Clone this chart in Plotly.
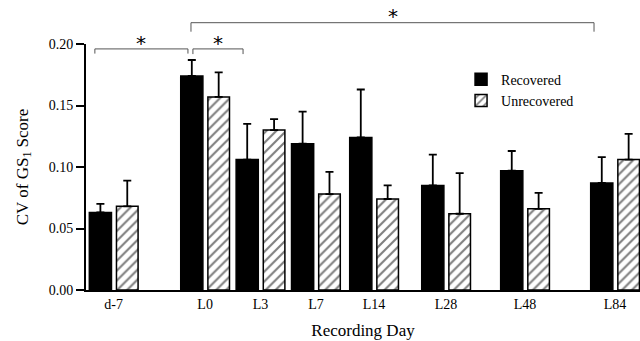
import plotly.graph_objects as go

categories = ["d-7", "L0", "L3", "L7", "L14", "L28", "L48", "L84"]
recovered = [0.063, 0.174, 0.106, 0.119, 0.124, 0.085, 0.097, 0.087]
recovered_err = [0.007, 0.013, 0.029, 0.026, 0.039, 0.025, 0.016, 0.021]
unrecovered = [0.068, 0.157, 0.130, 0.078, 0.074, 0.062, 0.066, 0.106]
unrecovered_err = [0.021, 0.020, 0.009, 0.018, 0.011, 0.033, 0.013, 0.021]

# layout helper: group centre positions along the x axis (non-uniform spacing)
group_x = [1, 4.3, 6.3, 8.3, 10.4, 13.0, 15.85, 19.1]

FONT = "Liberation Serif"

fig = go.Figure()
fig.add_trace(go.Bar(
    x=group_x, y=recovered, name="Recovered",
    offset=-0.88, width=0.8,
    marker=dict(color="black", line=dict(color="black", width=1.5)),
    error_y=dict(type="data", array=recovered_err, arrayminus=[0] * len(recovered),
                 symmetric=False, color="black", thickness=1.8, width=4),
))
fig.add_trace(go.Bar(
    x=group_x, y=unrecovered, name="Unrecovered",
    offset=0.1, width=0.78,
    marker=dict(color="white", line=dict(color="black", width=1.5),
                pattern=dict(shape="/", fgcolor="black", bgcolor="white",
                             size=7, solidity=0.3)),
    error_y=dict(type="data", array=unrecovered_err, arrayminus=[0] * len(unrecovered),
                 symmetric=False, color="black", thickness=1.8, width=4),
))

# significance brackets (x in data units, y in paper units)
def bracket(x0, x1, ytop, ybot, star_y):
    line = dict(color="#555", width=1)
    fig.add_shape(type="line", xref="x", yref="paper", x0=x0, x1=x1, y0=ytop, y1=ytop, line=line)
    fig.add_shape(type="line", xref="x", yref="paper", x0=x0, x1=x0, y0=ytop, y1=ybot, line=line)
    fig.add_shape(type="line", xref="x", yref="paper", x0=x1, x1=x1, y0=ytop, y1=ybot, line=line)
    fig.add_annotation(x=(x0 + x1) / 2, xref="x", y=star_y, yref="paper",
                       text="*", showarrow=False, yanchor="middle",
                       font=dict(family="DejaVu Sans", size=20, color="black"))

bracket(group_x[0] - 0.68, group_x[1] - 0.62, 0.98, 0.961, 1.005)
bracket(group_x[1] - 0.44, group_x[2] - 0.63, 0.98, 0.959, 1.005)
bracket(group_x[1] - 0.51, group_x[7] - 0.76, 1.0866, 1.05, 1.115)

fig.update_layout(
    width=640, height=341,
    margin=dict(l=86, r=0, t=44, b=51),
    plot_bgcolor="white", paper_bgcolor="white",
    barmode="overlay",
    showlegend=True,
    legend=dict(x=0.677, y=0.92, xanchor="left", yanchor="top",
                font=dict(family=FONT, size=14, color="black"),
                bgcolor="rgba(0,0,0,0)", itemwidth=30, tracegroupgap=0),
    font=dict(family=FONT, color="black"),
    xaxis=dict(range=[0, 20], tickmode="array", tickvals=group_x, ticktext=categories,
               showline=True, linecolor="black", linewidth=2, ticks="",
               showgrid=False, zeroline=False,
               tickfont=dict(family=FONT, size=14, color="black"),
               title=dict(text="Recording Day", font=dict(family=FONT, size=17, color="black"),
                          standoff=13)),
    yaxis=dict(range=[0, 0.2], tickmode="array", tickvals=[0, 0.05, 0.10, 0.15, 0.20],
               ticktext=["0.00", "0.05", "0.10", "0.15", "0.20"],
               showline=True, linecolor="black", linewidth=2, ticks="outside",
               ticklen=8, tickwidth=1.5, tickcolor="black",
               showgrid=False, zeroline=False,
               tickfont=dict(family=FONT, size=14, color="black"),
               title=dict(text="CV of GS<sub>1</sub> Score",
                          font=dict(family=FONT, size=17, color="black"), standoff=16)),
)

fig.write_html("out.html")
